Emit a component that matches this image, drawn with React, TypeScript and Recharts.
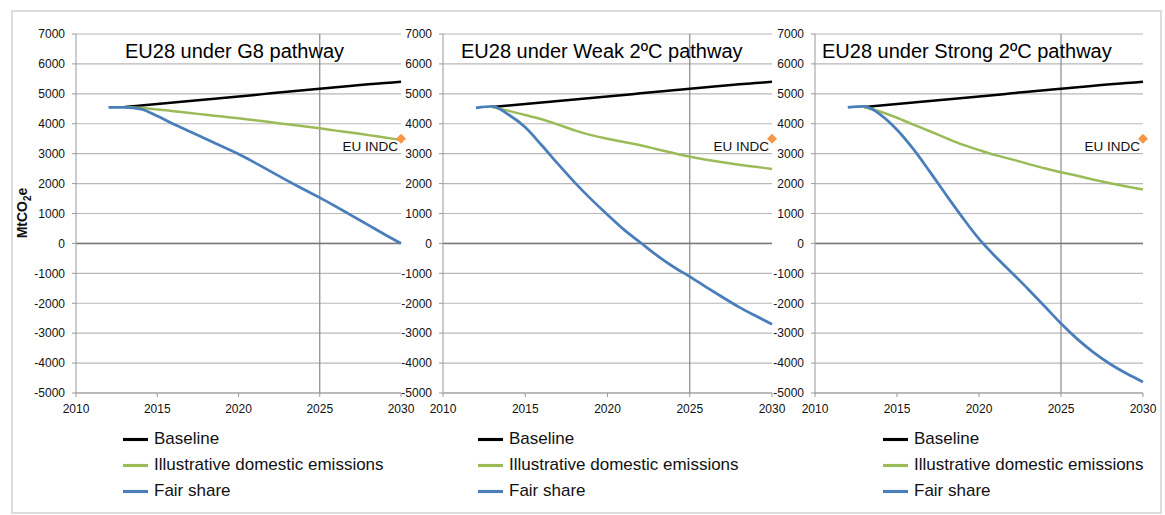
import React from 'react';
import { LineChart, Line, XAxis, YAxis, CartesianGrid, ReferenceLine, Legend } from 'recharts';

const FONT = '"Liberation Sans", Arial, sans-serif';

const years = [2012, 2013, 2014, 2015, 2016, 2017, 2018, 2019, 2020, 2021, 2022, 2023, 2024, 2025, 2026, 2027, 2028, 2029, 2030];

// same baseline in every panel
const baseline = [null, 4560, 4610, 4660, 4710, 4760, 4810, 4860, 4910, 4960, 5020, 5070, 5120, 5170, 5220, 5270, 5320, 5360, 5400];

const g8Domestic = [null, 4560, 4530, 4480, 4420, 4360, 4300, 4240, 4180, 4120, 4050, 3980, 3920, 3850, 3770, 3700, 3620, 3540, 3460];
const g8Fair = [4550, 4550, 4490, 4260, 3990, 3740, 3490, 3240, 2990, 2700, 2400, 2100, 1810, 1530, 1230, 920, 610, 300, 0];

const weakDomestic = [null, 4560, 4430, 4290, 4150, 3970, 3780, 3620, 3500, 3390, 3280, 3150, 3020, 2900, 2800, 2710, 2630, 2560, 2490];
const weakFair = [4530, 4580, 4300, 3880, 3280, 2650, 2040, 1480, 960, 460, 30, -400, -780, -1110, -1460, -1800, -2130, -2420, -2700];

const strongDomestic = [null, 4560, 4400, 4200, 3970, 3750, 3520, 3300, 3120, 2950, 2810, 2660, 2510, 2380, 2260, 2130, 2010, 1900, 1800];
const strongFair = [4550, 4580, 4300, 3800, 3150, 2400, 1620, 860, 150, -440, -980, -1530, -2100, -2680, -3200, -3650, -4030, -4350, -4630];

const euIndc = [null, null, null, null, null, null, null, null, null, null, null, null, null, null, null, null, null, null, 3500];

const legendOrder = ['Baseline', 'Illustrative domestic emissions', 'Fair share'];

const yTicks = [-5000, -4000, -3000, -2000, -1000, 0, 1000, 2000, 3000, 4000, 5000, 6000, 7000];
const xTicks = [2010, 2015, 2020, 2025, 2030];

const BLACK = '#000000';
const GREEN = '#9BBB59';
const BLUE = '#4A7EBB';
const ORANGE = '#F79646';

function buildRows(domestic: (number | null)[], fair: (number | null)[]) {
  return years.map((year, i) => ({
    year,
    baseline: baseline[i],
    domestic: domestic[i],
    fair: fair[i],
    indc: euIndc[i],
  }));
}

const IndcDot = (props: any) => {
  const { cx, cy, payload, index } = props;
  if (cx == null || cy == null || payload == null || payload.indc == null) return <g key={index} />;
  return (
    <g key={index}>
      <polygon points={`${cx},${cy - 5} ${cx + 5},${cy} ${cx},${cy + 5} ${cx - 5},${cy}`} fill={ORANGE} />
      <text x={cx - 3} y={cy + 12} textAnchor="end" fontSize={13.5} fill="#111" fontFamily={FONT}>
        EU INDC
      </text>
    </g>
  );
};

const unitLabel = () => (
  <text
    x={27}
    y={213}
    transform="rotate(-90 27 213)"
    textAnchor="middle"
    fontSize={14}
    fontWeight="bold"
    fill="#111"
    fontFamily={FONT}
  >
    MtCO<tspan fontSize={10} dy={4}>2</tspan>
    <tspan dy={-4}>e</tspan>
  </text>
);

interface PanelProps {
  title: string;
  domestic: (number | null)[];
  fair: (number | null)[];
  left: number;
  width: number;
  marginLeft: number;
  marginRight: number;
  yAxisWidth: number;
  titleLeft: number;
  legendLeft: number;
  showUnit?: boolean;
}

function Panel(p: PanelProps) {
  const rows = buildRows(p.domestic, p.fair);
  return (
    <div style={{ position: 'absolute', left: p.left, top: 0 }}>
      <LineChart
        width={p.width}
        height={515}
        data={rows}
        margin={{ top: 34, right: p.marginRight, left: p.marginLeft, bottom: 92 }}
      >
        <CartesianGrid vertical={false} stroke="#b8b8b8" strokeWidth={1.2} />
        <XAxis
          dataKey="year"
          type="number"
          domain={[2010, 2030]}
          ticks={xTicks}
          height={30}
          stroke="#999"
          tickSize={4}
          tickMargin={7}
          tick={{ fontSize: 12, fill: '#111', fontFamily: FONT }}
        />
        <YAxis
          type="number"
          domain={[-5000, 7000]}
          ticks={yTicks}
          width={p.yAxisWidth}
          stroke="#999"
          tickSize={4}
          tickMargin={7}
          tick={{ fontSize: 12, fill: '#111', fontFamily: FONT }}
          label={p.showUnit ? unitLabel : undefined}
        />
        <ReferenceLine x={2025} stroke="#8a8a8a" strokeWidth={1.2} />
        <ReferenceLine y={0} stroke="#777" strokeWidth={1.5} />
        <Line
          type="monotone"
          dataKey="baseline"
          name="Baseline"
          stroke={BLACK}
          strokeWidth={2.5}
          dot={false}
          activeDot={false}
          isAnimationActive={false}
        />
        <Line
          type="monotone"
          dataKey="domestic"
          name="Illustrative domestic emissions"
          stroke={GREEN}
          strokeWidth={2.5}
          dot={false}
          activeDot={false}
          isAnimationActive={false}
        />
        <Line
          type="monotone"
          dataKey="fair"
          name="Fair share"
          stroke={BLUE}
          strokeWidth={2.75}
          dot={false}
          activeDot={false}
          isAnimationActive={false}
        />
        <Line
          dataKey="indc"
          name="EU INDC"
          stroke="none"
          legendType="none"
          dot={IndcDot}
          activeDot={false}
          isAnimationActive={false}
        />
        <Legend
          layout="vertical"
          align="center"
          verticalAlign="middle"
          iconType="plainline"
          iconSize={25}
          itemSorter={(item: any) => legendOrder.indexOf(item.value)}
          formatter={(value: string) => <span style={{ color: '#111', marginLeft: 2 }}>{value}</span>}
          wrapperStyle={{ left: p.legendLeft, top: 426, fontSize: 17, lineHeight: '25.6px', fontFamily: FONT }}
        />
      </LineChart>
      <div
        style={{
          position: 'absolute',
          left: p.titleLeft - p.left,
          top: 41,
          fontSize: 20,
          lineHeight: '20px',
          fontFamily: FONT,
          color: '#000',
          whiteSpace: 'nowrap',
        }}
      >
        {p.title}
      </div>
    </div>
  );
}

export default function App() {
  return (
    <div
      style={{
        position: 'absolute',
        left: 0,
        top: 0,
        width: 1165,
        height: 515,
        background: '#fff',
        fontFamily: FONT,
        overflow: 'hidden',
      }}
    >
      <div
        style={{
          position: 'absolute',
          left: 11,
          top: 10,
          width: 1147,
          height: 500,
          border: '2px solid #dcdcdc',
        }}
      />
      <Panel
        title="EU28 under G8 pathway"
        domestic={g8Domestic}
        fair={g8Fair}
        left={0}
        width={420}
        marginLeft={30}
        marginRight={19}
        yAxisWidth={46}
        titleLeft={125}
        legendLeft={123}
        showUnit
      />
      <Panel
        title="EU28 under Weak 2ºC pathway"
        domestic={weakDomestic}
        fair={weakFair}
        left={400}
        width={395}
        marginLeft={0}
        marginRight={23}
        yAxisWidth={43}
        titleLeft={461}
        legendLeft={78}
      />
      <Panel
        title="EU28 under Strong 2ºC pathway"
        domestic={strongDomestic}
        fair={strongFair}
        left={770}
        width={395}
        marginLeft={0}
        marginRight={22}
        yAxisWidth={45}
        titleLeft={822}
        legendLeft={113}
      />
    </div>
  );
}
